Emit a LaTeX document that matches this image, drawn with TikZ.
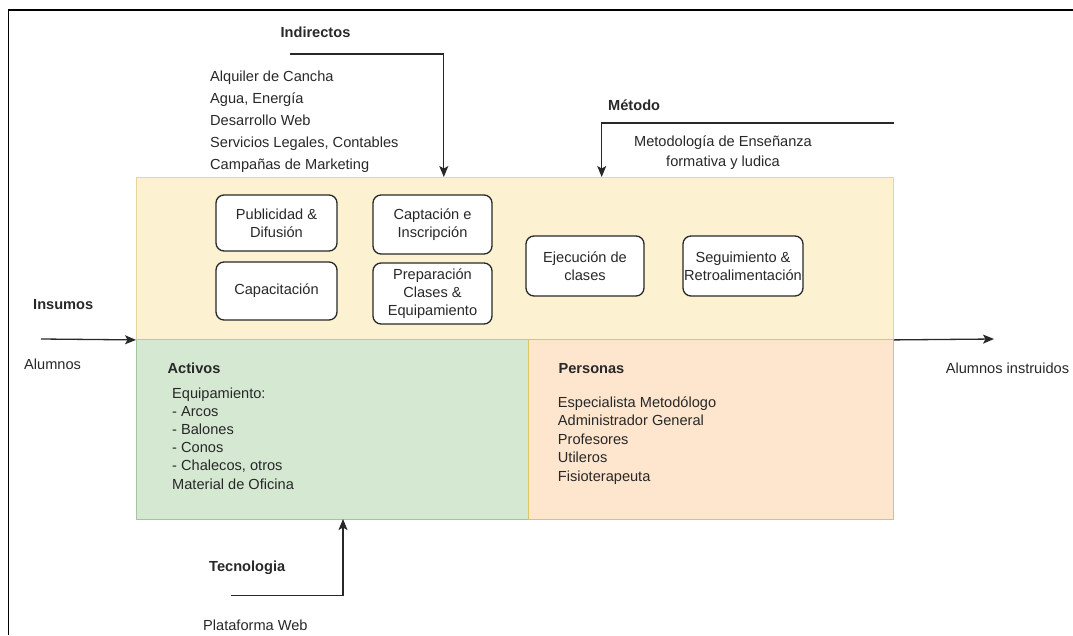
\documentclass[tikz,border=0pt]{standalone}
\usepackage{fontspec}
\setmainfont{Liberation Sans}
\usetikzlibrary{arrows.meta}
\definecolor{yfill}{RGB}{252,241,208}
\definecolor{ydraw}{RGB}{232,214,150}
\definecolor{gfill}{RGB}{212,232,210}
\definecolor{gdraw}{RGB}{160,200,155}
\definecolor{ofill}{RGB}{253,229,206}
\definecolor{odraw}{RGB}{218,196,100}
\definecolor{ink}{RGB}{40,40,40}
\tikzset{
  every node/.style={font=\fontsize{14.6}{18.2}\selectfont, inner sep=0pt, text=ink},
  lbl/.style={font=\fontsize{14.6}{18.2}\selectfont\bfseries},
  region/.style={draw, line width=0.9pt, anchor=north west},
  stepbox/.style={draw=ink, fill=white, line width=1.3pt, rounded corners=8pt, align=center},
  arr/.style={draw=ink, line width=1.3pt, -{Stealth[length=11pt,width=9pt,inset=2.5pt]}},
  frame/.style={draw=black, line width=1.9pt}
}
\begin{document}
\begin{tikzpicture}[x=1pt,y=-1pt]
\useasboundingbox (0,0) rectangle (1073,635);
\draw[frame] (8.5,635) -- (8.5,10.3) -- (1073,10.3);
% regions
\node[region, fill=yfill, draw=ydraw, minimum width=757pt, minimum height=162pt] (proc) at (136,177) {};
\node[region, fill=gfill, draw=gdraw, minimum width=392pt, minimum height=180pt] (act) at (136,339) {};
\node[region, fill=ofill, draw=odraw, minimum width=365pt, minimum height=180pt] (per) at (528,339) {};
\draw[odraw, line width=1pt] (act.north west) -- (per.north east);
% process steps
\node[stepbox, minimum width=121pt, minimum height=56pt] (pub) at (276.5,223) {Publicidad \&\\Difusión};
\node[stepbox, minimum width=119pt, minimum height=59pt] (cap) at (432.5,224.5) {Captación e\\Inscripción};
\node[stepbox, minimum width=121pt, minimum height=58pt] (capa) at (276.5,291) {Capacitación};
\node[stepbox, minimum width=119pt, minimum height=61pt] (prep) at (432.5,293.5) {Preparación\\Clases \&\\Equipamiento};
\node[stepbox, minimum width=118pt, minimum height=60pt] (eje) at (585,266) {Ejecución de\\clases};
\node[stepbox, minimum width=120pt, minimum height=60pt] (seg) at (743,266) {Seguimiento \&\\Retroalimentación};
% labels
\node[lbl, anchor=base west] (tind) at (280.4,37) {Indirectos};
\node[anchor=north west, align=left, font=\fontsize{14.6}{22}\selectfont] (lind) at (210,70.3) {Alquiler de Cancha\\Agua, Energía\\Desarrollo Web\\Servicios Legales, Contables\\Campañas de Marketing};
\node[lbl, anchor=base west] (tmet) at (608,110) {Método};
\node[anchor=north, align=center, font=\fontsize{14.6}{20}\selectfont] (lmet) at (723,135.5) {Metodología de Enseñanza\\formativa y ludica};
\node[lbl, anchor=base west] (tins) at (33,309) {Insumos};
\node[anchor=base west] (lalu) at (24,369.6) {Alumnos};
\node[lbl, anchor=base west] (tact) at (167.5,373) {Activos};
\node[anchor=north west, align=left, font=\fontsize{14.6}{18.2}\selectfont] (lact) at (172,387.3) {Equipamiento:\\- Arcos\\- Balones\\- Conos\\- Chalecos, otros\\Material de Oficina};
\node[lbl, anchor=base west] (tper) at (558.4,373.3) {Personas};
\node[anchor=north west, align=left, font=\fontsize{14.6}{18.5}\selectfont] (lper) at (557.7,396.4) {Especialista Metodólogo\\Administrador General\\Profesores\\Utileros\\Fisioterapeuta};
\node[anchor=base west] (lout) at (945.6,373.3) {Alumnos instruidos};
\node[lbl, anchor=base west] (ttec) at (209,571.8) {Tecnologia};
\node[anchor=base west] (ltec) at (203,630) {Plataforma Web};
% connectors
\coordinate (indS) at (290,54);
\coordinate (indE) at (443.8,177);
\draw[arr] (indS) -| (indE);
\coordinate (metS) at (893.6,123);
\coordinate (metE) at (601.7,177);
\draw[arr] (metS) -| (metE);
\coordinate (tecS) at (230.5,595.6);
\coordinate (tecE) at (343,519);
\draw[arr] (tecS) -| (tecE);
\coordinate (insS) at (41,339);
\draw[arr] (insS) -- (proc.south west);
\coordinate (outE) at (994,339);
\draw[arr] (proc.south east) -- (outE);
\end{tikzpicture}
\end{document}
